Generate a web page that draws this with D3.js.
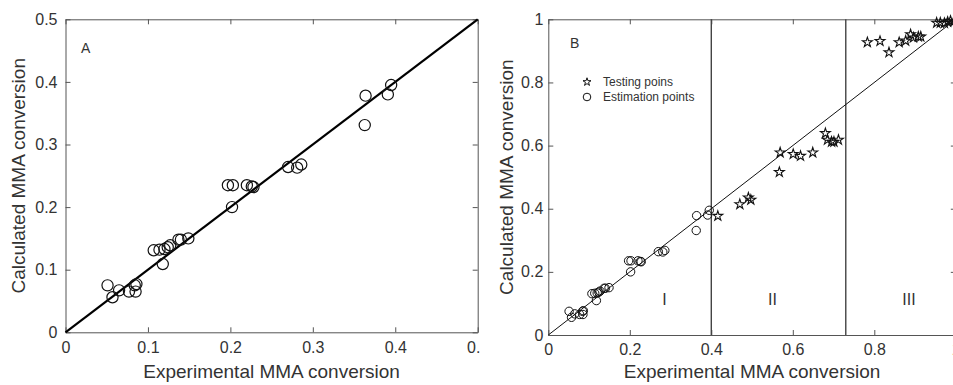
<!DOCTYPE html>
<html>
<head>
<meta charset="utf-8">
<script src="https://cdn.jsdelivr.net/npm/d3@7"></script>
<style>
  body { margin: 0; background: #fff; }
  text { font-family: "Liberation Sans", Arial, sans-serif; fill: #333; }
</style>
</head>
<body>
<div id="chart"></div>
<script>
// estimation points (used in both panels)
var expEst = [0.051, 0.057, 0.065, 0.077, 0.084, 0.086, 0.085, 0.107, 0.114, 0.118, 0.120, 0.124, 0.127,
  0.137, 0.140, 0.149, 0.197, 0.203, 0.202, 0.220, 0.226, 0.228, 0.270, 0.281, 0.286, 0.364, 0.363, 0.391, 0.395];
var calcEst = [0.075, 0.056, 0.067, 0.065, 0.075, 0.077, 0.065, 0.131, 0.132, 0.109, 0.133, 0.136, 0.139,
  0.148, 0.148, 0.150, 0.235, 0.235, 0.200, 0.235, 0.233, 0.232, 0.264, 0.263, 0.268, 0.378, 0.331, 0.380, 0.395];

// testing points (panel B)
var expTest = [0.416, 0.470, 0.491, 0.497, 0.567, 0.569, 0.601, 0.619, 0.649, 0.680, 0.685, 0.695, 0.701, 0.712,
  0.783, 0.814, 0.836, 0.861, 0.877, 0.889, 0.896, 0.908, 0.914, 0.953, 0.962, 0.972, 0.980, 0.987, 0.995];
var calcTest = [0.377, 0.414, 0.435, 0.428, 0.516, 0.578, 0.573, 0.567, 0.578, 0.639, 0.618, 0.612, 0.612, 0.618,
  0.927, 0.931, 0.895, 0.927, 0.932, 0.952, 0.942, 0.945, 0.945, 0.989, 0.989, 0.988, 0.992, 0.995, 0.993];

var ticksA = [0, 0.1, 0.2, 0.3, 0.4, 0.5];
var ticksB = [0, 0.2, 0.4, 0.6, 0.8, 1];
var regionBounds = [0.4, 0.73];
var regionNames = ["I", "II", "III"];
var regionX = [0.285, 0.55, 0.885];
var legendNames = ["Testing poins", "Estimation points"];

var width = 953, height = 385;
var svg = d3.select("#chart").append("svg").attr("width", width).attr("height", height);

svg.append("defs").append("clipPath").attr("id", "clipA")
  .append("rect").attr("x", 0).attr("y", 0).attr("width", 480).attr("height", height);

var fmt = function(d) { return String(+d.toFixed(2)); };

function frame(g, x, y, ticks, pad) {
  var x0 = x.range()[0], x1 = x.range()[1], y0 = y.range()[0], y1 = y.range()[1];
  g.append("g").attr("transform", "translate(0," + y0 + ")")
    .call(d3.axisBottom(x).tickValues(ticks).tickFormat(fmt).tickSizeInner(-5).tickSizeOuter(0).tickPadding(9));
  g.append("g").attr("transform", "translate(" + x0 + ",0)")
    .call(d3.axisLeft(y).tickValues(ticks).tickFormat(fmt).tickSizeInner(-5).tickSizeOuter(0).tickPadding(pad));
  g.append("g").attr("transform", "translate(0," + y1 + ")")
    .call(d3.axisTop(x).tickValues(ticks).tickFormat("").tickSizeInner(-5).tickSizeOuter(0));
  g.append("g").attr("transform", "translate(" + x1 + ",0)")
    .call(d3.axisRight(y).tickValues(ticks).tickFormat("").tickSizeInner(-5).tickSizeOuter(0));
  g.selectAll(".domain").attr("stroke", "#555");
  g.selectAll(".tick line").attr("stroke", "#555");
  g.selectAll(".tick text").style("font-size", "16px").attr("fill", "#333");
}

// ---- panel A
var gA = svg.append("g").attr("clip-path", "url(#clipA)");
var xA = d3.scaleLinear().domain([0, 0.5]).range([65.5, 477.7]);
var yA = d3.scaleLinear().domain([0, 0.5]).range([332.3, 19.3]);
frame(gA, xA, yA, ticksA, 8);

gA.append("line").attr("x1", xA(0)).attr("y1", yA(0)).attr("x2", xA(0.5)).attr("y2", yA(0.5))
  .attr("stroke", "#000").attr("stroke-width", 2.2);

gA.selectAll("circle.est").data(expEst).enter().append("circle")
  .attr("cx", function(d) { return xA(d); })
  .attr("cy", function(d, i) { return yA(calcEst[i]); })
  .attr("r", 5.6).attr("fill", "none").attr("stroke", "#111").attr("stroke-width", 1.2);

gA.append("text").attr("x", 81).attr("y", 53).style("font-size", "14px").text("A");
gA.append("text").attr("x", (xA.range()[0] + xA.range()[1]) / 2).attr("y", 378)
  .attr("text-anchor", "middle").style("font-size", "19px").text("Experimental MMA conversion");
gA.append("text").attr("transform", "translate(25," + (yA.range()[0] + yA.range()[1]) / 2 + ") rotate(-90)")
  .attr("text-anchor", "middle").style("font-size", "19px").text("Calculated MMA conversion");

// ---- panel B
var gB = svg.append("g");
var xB = d3.scaleLinear().domain([0, 1]).range([548.3, 955.8]);
var yB = d3.scaleLinear().domain([0, 1]).range([335, 19.3]);
frame(gB, xB, yB, ticksB, 5);

gB.selectAll("line.bound").data(regionBounds).enter().append("line")
  .attr("x1", function(d) { return xB(d); }).attr("x2", function(d) { return xB(d); })
  .attr("y1", yB(0)).attr("y2", yB(1))
  .attr("stroke", "#444").attr("stroke-width", 1.4);

gB.append("line").attr("x1", xB(0)).attr("y1", yB(0)).attr("x2", xB(1)).attr("y2", yB(1))
  .attr("stroke", "#111").attr("stroke-width", 1);

gB.selectAll("circle.est").data(expEst).enter().append("circle")
  .attr("cx", function(d) { return xB(d); })
  .attr("cy", function(d, i) { return yB(calcEst[i]); })
  .attr("r", 4.2).attr("fill", "none").attr("stroke", "#111").attr("stroke-width", 1);

var star = d3.symbol().type(d3.symbolStar).size(30);
gB.selectAll("path.test").data(expTest).enter().append("path")
  .attr("d", star)
  .attr("transform", function(d, i) { return "translate(" + xB(d) + "," + yB(calcTest[i]) + ")"; })
  .attr("fill", "none").attr("stroke", "#111").attr("stroke-width", 1.1);

gB.selectAll("text.region").data(regionNames).enter().append("text")
  .attr("x", function(d, i) { return xB(regionX[i]); })
  .attr("y", yB(0.095)).attr("text-anchor", "middle").style("font-size", "16px")
  .text(function(d) { return d; });

// legend
gB.append("path").attr("d", d3.symbol().type(d3.symbolStar).size(20))
  .attr("transform", "translate(587,82)").attr("fill", "none").attr("stroke", "#111");
gB.append("circle").attr("cx", 587).attr("cy", 97).attr("r", 3.8)
  .attr("fill", "none").attr("stroke", "#111");
gB.selectAll("text.leg").data(legendNames).enter().append("text")
  .attr("x", 603).attr("y", function(d, i) { return 86 + i * 15; })
  .style("font-size", "12px").text(function(d) { return d; });

gB.append("text").attr("x", 570).attr("y", 48).style("font-size", "14px").text("B");
gB.append("text").attr("x", (xB.range()[0] + xB.range()[1]) / 2).attr("y", 378)
  .attr("text-anchor", "middle").style("font-size", "19px").text("Experimental MMA conversion");
gB.append("text").attr("transform", "translate(513," + (yB.range()[0] + yB.range()[1]) / 2 + ") rotate(-90)")
  .attr("text-anchor", "middle").style("font-size", "19px").text("Calculated MMA conversion");
</script>
</body>
</html>
